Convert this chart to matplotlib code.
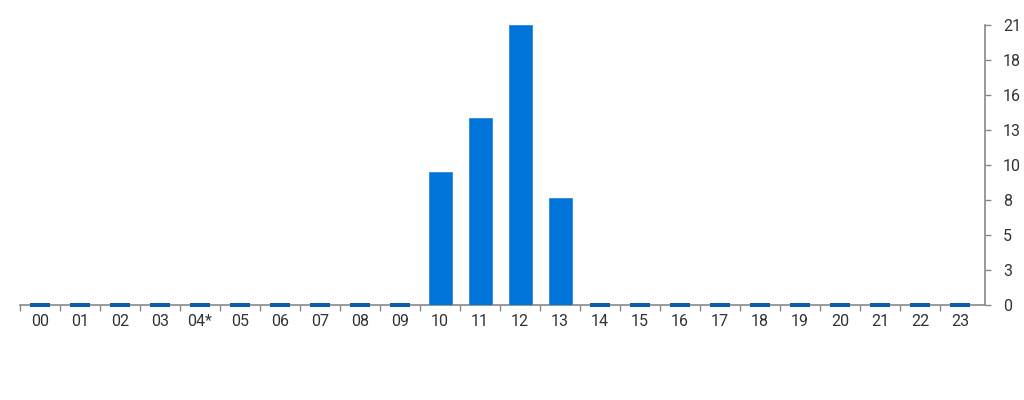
import matplotlib
matplotlib.use("Agg")
import matplotlib.pyplot as plt
import numpy as np

hours = ["00", "01", "02", "03", "04*", "05", "06", "07", "08", "09", "10", "11",
         "12", "13", "14", "15", "16", "17", "18", "19", "20", "21", "22", "23"]
values = [0, 0, 0, 0, 0, 0, 0, 0, 0, 0, 10, 14, 21, 8, 0, 0, 0, 0, 0, 0, 0, 0, 0, 0]
ytick_vals = [0, 21 / 8, 2 * 21 / 8, 3 * 21 / 8, 4 * 21 / 8, 5 * 21 / 8, 6 * 21 / 8, 7 * 21 / 8, 21]
ytick_labels = ["0", "3", "5", "8", "10", "13", "16", "18", "21"]

plt.rcParams['font.family'] = ['Roboto', 'DejaVu Sans']

fig = plt.figure(figsize=(10.24, 4.0), dpi=100)
ax = fig.add_axes([20 / 1024, 1 - 305 / 400, 965 / 1024, 280 / 400])

x = np.arange(len(hours))
vals = np.array(values, dtype=float)
nz = vals > 0
ax.bar(x[nz], vals[nz], width=0.575, color="#0074D9", edgecolor="#2a8ae0",
       linewidth=0.6, zorder=3)
ph = ~nz
ax.bar(x[ph], np.full(ph.sum(), 0.28), bottom=-0.14, width=0.5, color="#0A60B0",
       zorder=4, clip_on=False)

ax.set_xlim(-0.5, 23.625)
ax.set_ylim(0, 21)

ax.yaxis.tick_right()
ax.set_yticks(ytick_vals)
ax.set_yticklabels(ytick_labels)
ax.set_xticks(np.arange(-0.5, 23, 1.0))
ax.set_xticklabels([])
ax.set_xticks(x, minor=True)
ax.set_xticklabels(hours, minor=True)
ax.tick_params(axis="x", which="major", direction="out", length=4, color="#888888", width=1)
ax.tick_params(axis="x", which="minor", length=0, pad=6.5, labelsize=11.5, labelcolor="#333333")
ax.tick_params(axis="y", direction="out", length=4, color="#888888", width=1,
               pad=9, labelsize=11.5, labelcolor="#333333")

for s in ["top", "left"]:
    ax.spines[s].set_visible(False)
ax.spines["right"].set_color("#888888")
ax.spines["bottom"].set_color("#888888")
ax.spines["right"].set_linewidth(1.2)
ax.spines["bottom"].set_linewidth(1.2)
for lab in ax.get_yticklabels():
    lab.set_horizontalalignment("left")

fig.savefig("out.png", dpi=100)
